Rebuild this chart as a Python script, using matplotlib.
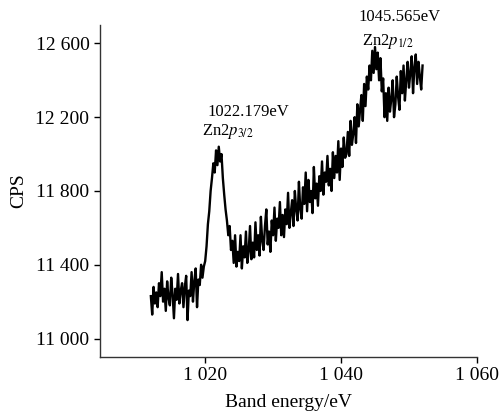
import numpy as np
import matplotlib
matplotlib.use('Agg')
import matplotlib.pyplot as plt

plt.rcParams['font.family'] = 'Liberation Serif'
plt.rcParams['mathtext.fontset'] = 'stix'

# XPS spectrum, 0.2 eV step from 1012.0 to 1052.0 eV
energy_start = 1012.0
energy_step = 0.2
cps = [
    11230, 11130, 11280, 11190, 11250,
    11170, 11300, 11230, 11360, 11200,
    11270, 11150, 11310, 11220, 11180,
    11330, 11240, 11110, 11270, 11210,
    11350, 11190, 11260, 11300, 11170,
    11280, 11340, 11100, 11260, 11230,
    11360, 11200, 11310, 11380, 11170,
    11320, 11290, 11400, 11330, 11390,
    11420, 11500, 11620, 11690, 11800,
    11870, 11950, 11900, 12020, 11940,
    12040, 11960, 12000, 11870, 11780,
    11700, 11640, 11560, 11610, 11480,
    11530, 11410, 11560, 11390, 11470,
    11420, 11560, 11380, 11500, 11440,
    11580, 11410, 11470, 11610, 11430,
    11520, 11440, 11630, 11480, 11560,
    11450, 11660, 11530, 11480, 11610,
    11700, 11510, 11580, 11470, 11640,
    11560, 11710, 11530, 11650, 11600,
    11740, 11560, 11670, 11550, 11700,
    11620, 11790, 11600, 11680, 11750,
    11610, 11800, 11700, 11640, 11850,
    11700, 11650, 11820, 11730, 11900,
    11690, 11860, 11740, 11800, 11680,
    11930, 11760, 11840, 11720, 11880,
    11800, 11960, 11780, 11900, 11850,
    11990, 11830, 11920, 11800, 12010,
    11870, 11990, 11900, 12070, 11860,
    12030, 11930, 12090, 11980, 12000,
    12120, 11990, 12180, 12050, 12110,
    12200, 12060, 12270, 12150, 12240,
    12320, 12180, 12380, 12260, 12420,
    12350, 12480, 12400, 12560, 12440,
    12580, 12460, 12550, 12400, 12520,
    12340, 12410, 12200, 12330, 12180,
    12360, 12230, 12300, 12400, 12200,
    12270, 12420, 12310, 12240, 12450,
    12330, 12480, 12290, 12400, 12500,
    12360, 12440, 12530, 12330, 12470,
    12540, 12380, 12500, 12420, 12350,
    12480,
]
energy = energy_start + energy_step * np.arange(len(cps))

xticks = [1020, 1040, 1060]
yticks = [11000, 11400, 11800, 12200, 12600]

def fmt(v):
    return '{:,}'.format(v).replace(',', ' ')

fig = plt.figure(figsize=(5.02, 4.13), dpi=100)
ax = fig.add_axes([0.199, 0.1356, 0.751, 0.804])
ax.plot(energy, cps, color='black', linewidth=1.7)

ax.set_xlim(1004.5, 1060)
ax.set_ylim(10900, 12700)
ax.set_xticks(xticks)
ax.set_xticklabels([fmt(v) for v in xticks])
ax.set_yticks(yticks)
ax.set_yticklabels([fmt(v) for v in yticks])
ax.tick_params(labelsize=14, length=4, width=1, direction='out')
ax.spines['top'].set_visible(False)
ax.spines['right'].set_visible(False)
for s in ['left', 'bottom']:
    ax.spines[s].set_linewidth(1)
    ax.spines[s].set_color('#333333')

ax.set_xlabel('Band energy/eV', fontsize=14, labelpad=7)
ax.set_ylabel('CPS', fontsize=14, labelpad=6)

ax.text(1020.4, 12230, '1022.179eV', fontsize=12, ha='left', va='center')
ax.text(1019.6, 12121, r'Zn2$p_{3/2}$', fontsize=12, ha='left', va='center')
ax.text(1042.5, 12742, '1045.565eV', fontsize=12, ha='left', va='center', clip_on=False)
ax.text(1043.1, 12611, r'Zn2$p_{1/2}$', fontsize=12, ha='left', va='center')

fig.savefig('out.png', dpi=100)
